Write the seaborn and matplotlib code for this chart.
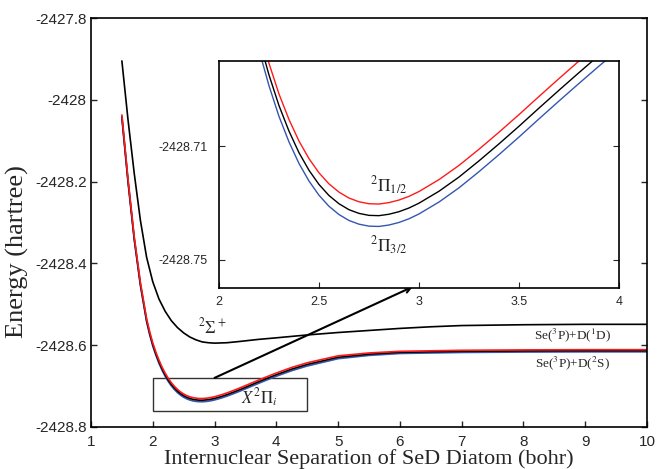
import numpy as np
import matplotlib
matplotlib.use("Agg")
import matplotlib.pyplot as plt
import matplotlib.patches as mpatches
import seaborn as sns

##### DATA

# X2Pi curves (spin-orbit components and the mean curve), bohr / hartree
r_pi = [1.5, 1.6, 1.7, 1.8, 1.9, 1.95, 2.0, 2.05, 2.1, 2.15, 2.2, 2.25, 2.3, 2.35,
        2.4, 2.45, 2.5, 2.55, 2.6, 2.65, 2.7, 2.75, 2.8, 2.85, 2.9, 2.95, 3.0,
        3.1, 3.2, 3.3, 3.4, 3.5, 3.6, 3.7, 3.8, 3.9, 4.0, 4.25, 4.5, 5.0, 5.5,
        6.0, 7.0, 8.0, 9.0, 10.0]

e_pi_half = [-2428.0370, -2428.1950, -2428.3350, -2428.4470, -2428.5350, -2428.5670,
             -2428.5944, -2428.6168, -2428.6364, -2428.6534, -2428.6682, -2428.6808,
             -2428.6916, -2428.7006, -2428.7082, -2428.7144, -2428.7194, -2428.7233,
             -2428.7262, -2428.7283, -2428.7296, -2428.7303, -2428.7304, -2428.7299,
             -2428.7290, -2428.7277, -2428.7260, -2428.7218, -2428.7168, -2428.7111,
             -2428.7051, -2428.6989, -2428.6925, -2428.6862, -2428.6800, -2428.6739,
             -2428.6680, -2428.6544, -2428.6430, -2428.6260, -2428.6190, -2428.6150,
             -2428.6125, -2428.6115, -2428.6110, -2428.6110]

e_pi_mean = [-2428.0411, -2428.1991, -2428.3391, -2428.4511, -2428.5391, -2428.5711,
             -2428.5985, -2428.6209, -2428.6405, -2428.6575, -2428.6723, -2428.6849,
             -2428.6957, -2428.7047, -2428.7123, -2428.7185, -2428.7235, -2428.7274,
             -2428.7303, -2428.7324, -2428.7337, -2428.7344, -2428.7345, -2428.7340,
             -2428.7331, -2428.7318, -2428.7301, -2428.7259, -2428.7209, -2428.7152,
             -2428.7092, -2428.7030, -2428.6966, -2428.6903, -2428.6841, -2428.6780,
             -2428.6721, -2428.6585, -2428.6471, -2428.6295, -2428.6220, -2428.6175,
             -2428.6150, -2428.6140, -2428.6135, -2428.6135]

e_pi_3half = [-2428.0449, -2428.2029, -2428.3429, -2428.4549, -2428.5429, -2428.5749,
              -2428.6023, -2428.6247, -2428.6443, -2428.6613, -2428.6761, -2428.6887,
              -2428.6995, -2428.7085, -2428.7161, -2428.7223, -2428.7273, -2428.7312,
              -2428.7341, -2428.7362, -2428.7375, -2428.7382, -2428.7383, -2428.7378,
              -2428.7369, -2428.7356, -2428.7339, -2428.7297, -2428.7247, -2428.7190,
              -2428.7130, -2428.7068, -2428.7004, -2428.6941, -2428.6879, -2428.6818,
              -2428.6759, -2428.6623, -2428.6509, -2428.6330, -2428.6250, -2428.6203,
              -2428.6178, -2428.6168, -2428.6163, -2428.6163]

# 2Sigma+ curve
r_sigma = [1.5, 1.6, 1.7, 1.8, 1.9, 2.0, 2.1, 2.2, 2.3, 2.4, 2.5, 2.6, 2.7, 2.8,
           2.9, 3.0, 3.2, 3.4, 3.7, 4.0, 4.5, 5.0, 5.5, 6.0, 6.5, 7.0, 8.0, 9.0, 10.0]
e_sigma = [-2427.905, -2428.050, -2428.180, -2428.295, -2428.385, -2428.445,
           -2428.487, -2428.517, -2428.540, -2428.557, -2428.570, -2428.580,
           -2428.587, -2428.592, -2428.594, -2428.595, -2428.594, -2428.591,
           -2428.586, -2428.582, -2428.575, -2428.569, -2428.564, -2428.559,
           -2428.555, -2428.552, -2428.550, -2428.549, -2428.549]

main_yticks = [-2428.8, -2428.6, -2428.4, -2428.2, -2428.0, -2427.8]
main_ylabels = ["-2428.8", "-2428.6", "-2428.4", "-2428.2", "-2428", "-2427.8"]
inset_xticks = [2, 2.5, 3, 3.5, 4]
inset_xlabels = ["2", "2.5", "3", "3.5", "4"]
inset_yticks = [-2428.75, -2428.71]
inset_ylabels = ["-2428.75", "-2428.71"]

RED = "#ff1a1a"
BLUE = "#3556b0"

##### PLOT
sns.set_style("ticks")
plt.rcParams["font.family"] = ["Liberation Sans", "DejaVu Sans"]
plt.rcParams["mathtext.fontset"] = "stix"
serif = ["Liberation Serif", "DejaVu Serif"]

fig = plt.figure(figsize=(6.57, 4.69), dpi=100)
ax = fig.add_axes([0.1385, 0.0896, 0.8463, 0.872])

def draw_curves(a, lw):
    sns.lineplot(x=r_sigma, y=e_sigma, ax=a, color="black", lw=lw, sort=False)
    sns.lineplot(x=r_pi, y=e_pi_3half, ax=a, color=BLUE, lw=lw, sort=False)
    sns.lineplot(x=r_pi, y=e_pi_mean, ax=a, color="black", lw=lw, sort=False)
    sns.lineplot(x=r_pi, y=e_pi_half, ax=a, color=RED, lw=lw, sort=False)

draw_curves(ax, 1.2)
ax.set_xlim(1, 10)
ax.set_ylim(-2428.8, -2427.8)
ax.set_xticks(range(1, 11))
ax.set_yticks(main_yticks)
ax.set_yticklabels(main_ylabels)
ax.tick_params(direction="in", length=4, labelsize=11, right=True, top=False,
               width=1)
ax.tick_params(axis="x", pad=6)
ax.tick_params(axis="y", pad=3)
for s in ax.spines.values():
    s.set_linewidth(1.2)
    s.set_color("black")

ax.set_xlabel("Internuclear Separation of SeD Diatom (bohr)", family=serif,
              fontsize=16, labelpad=0)
ax.set_ylabel("Energy (hartree)", family=serif, fontsize=19)
ax.yaxis.set_label_coords(-0.112, 0.43)

# zoom box and arrow
rect = mpatches.Rectangle((2, -2428.76), 2.5, 0.08, fill=False,
                          edgecolor="#333333", lw=1.0)
ax.add_patch(rect)
ax.annotate("", xy=(6.21, -2428.457), xytext=(3.0, -2428.68),
            arrowprops=dict(arrowstyle="->", lw=1.5, color="black",
                            shrinkA=0, shrinkB=0))

# state labels
ax.text(2.97, -2428.553, r"$^2\Sigma^+$", fontsize=12, ha="center", va="center")
ax.text(3.73, -2428.729, r"$X^2\Pi_i$", fontsize=12, ha="center", va="center")
ax.text(8.8, -2428.575, r"Se($^3$P)+D($^1$D)", family=serif, fontsize=9.5,
        ha="center", va="center")
ax.text(8.8, -2428.644, r"Se($^3$P)+D($^2$S)", family=serif, fontsize=9.5,
        ha="center", va="center")

# inset
axi = fig.add_axes([0.3333, 0.3859, 0.6088, 0.484])
axi.set_facecolor("white")
draw_curves(axi, 1.0)
axi.set_xlim(2, 4)
axi.set_ylim(-2428.76, -2428.68)
axi.set_xticks(inset_xticks)
axi.set_xticklabels(inset_xlabels)
axi.set_yticks(inset_yticks)
axi.set_yticklabels(inset_ylabels)
axi.tick_params(direction="in", length=4, labelsize=9, right=True, top=False)
axi.tick_params(axis="x", pad=6)
axi.tick_params(axis="y", pad=8)
for s in axi.spines.values():
    s.set_linewidth(1.2)
    s.set_color("black")
axi.set_xlabel("")
axi.set_ylabel("")
axi.text(2.85, -2428.724, r"$^2\Pi_{1/2}$", fontsize=12.5, ha="center", va="center")
axi.text(2.85, -2428.745, r"$^2\Pi_{3/2}$", fontsize=12.5, ha="center", va="center")

fig.savefig("out.png", dpi=100)
